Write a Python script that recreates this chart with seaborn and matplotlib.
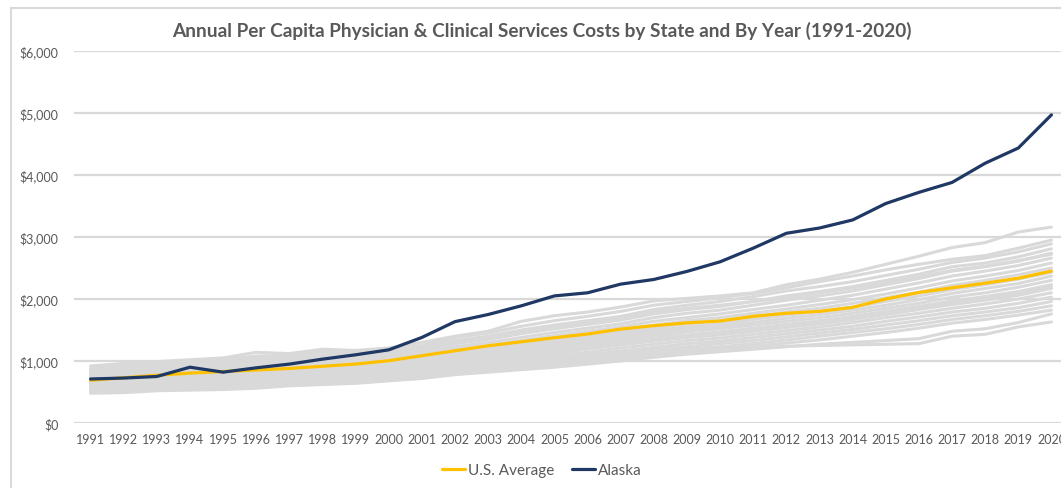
import matplotlib
matplotlib.use("Agg")
import matplotlib.pyplot as plt
from matplotlib.patches import Rectangle
from matplotlib.lines import Line2D
from matplotlib.ticker import FuncFormatter
import seaborn as sns
import pandas as pd

years = list(range(1991, 2021))

us_average = [690, 730, 770, 805, 830, 855, 880, 915, 950, 1005, 1085, 1165, 1245, 1310, 1375,
              1435, 1515, 1570, 1615, 1645, 1720, 1770, 1800, 1865, 2000, 2105, 2180, 2255, 2335, 2450]

alaska = [710, 725, 750, 900, 820, 890, 950, 1030, 1100, 1180, 1380, 1635, 1750, 1890, 2050,
          2100, 2240, 2315, 2445, 2600, 2820, 3060, 3145, 3275, 3540, 3720, 3880, 4190, 4435, 4970]

other_states = [
    [920, 960, 990, 1020, 1050, 1140, 1120, 1190, 1170, 1210, 1300, 1400, 1480, 1640, 1730, 1790, 1870, 1970, 2010, 2050, 2100, 2230, 2320, 2430, 2560, 2690, 2830, 2910, 3080, 3160],
    [880, 930, 970, 1000, 1020, 1080, 1090, 1150, 1140, 1180, 1250, 1380, 1450, 1560, 1650, 1720, 1800, 1900, 1960, 2020, 2090, 2180, 2280, 2370, 2470, 2560, 2640, 2700, 2820, 2950],
    [850, 890, 940, 980, 1000, 1050, 1060, 1100, 1110, 1150, 1220, 1330, 1400, 1500, 1580, 1650, 1720, 1830, 1900, 1960, 2040, 2130, 2200, 2280, 2380, 2480, 2590, 2660, 2760, 2890],
    [820, 860, 900, 940, 960, 1000, 1030, 1070, 1080, 1120, 1180, 1280, 1350, 1440, 1520, 1590, 1660, 1760, 1830, 1880, 1960, 2050, 2120, 2200, 2300, 2400, 2520, 2580, 2680, 2810],
    [790, 830, 870, 900, 930, 960, 990, 1040, 1050, 1090, 1150, 1230, 1300, 1380, 1460, 1530, 1600, 1700, 1770, 1820, 1900, 1980, 2050, 2130, 2230, 2330, 2450, 2520, 2610, 2740],
    [760, 800, 840, 870, 900, 930, 960, 1000, 1020, 1060, 1110, 1190, 1260, 1330, 1410, 1480, 1550, 1640, 1700, 1760, 1830, 1900, 1980, 2060, 2160, 2260, 2370, 2450, 2540, 2660],
    [740, 770, 810, 840, 870, 900, 930, 970, 990, 1030, 1080, 1150, 1220, 1290, 1360, 1430, 1500, 1580, 1650, 1700, 1770, 1840, 1910, 1990, 2080, 2180, 2290, 2370, 2460, 2580],
    [720, 750, 780, 810, 840, 870, 900, 940, 960, 1000, 1050, 1120, 1180, 1250, 1320, 1390, 1460, 1530, 1600, 1650, 1720, 1790, 1850, 1930, 2020, 2110, 2220, 2300, 2390, 2500],
    [700, 730, 760, 790, 810, 840, 870, 910, 930, 970, 1020, 1090, 1150, 1210, 1280, 1350, 1420, 1490, 1550, 1600, 1670, 1740, 1800, 1870, 1960, 2050, 2150, 2230, 2320, 2430],
    [680, 700, 730, 760, 790, 810, 840, 880, 900, 940, 990, 1050, 1110, 1170, 1240, 1310, 1380, 1450, 1510, 1560, 1620, 1690, 1750, 1820, 1900, 1990, 2090, 2170, 2250, 2370],
    [660, 680, 710, 740, 760, 790, 820, 850, 870, 910, 960, 1020, 1080, 1140, 1200, 1270, 1340, 1410, 1470, 1520, 1580, 1640, 1700, 1770, 1850, 1930, 2030, 2100, 2190, 2300],
    [640, 660, 690, 710, 740, 760, 790, 820, 850, 880, 930, 990, 1040, 1100, 1160, 1230, 1300, 1370, 1420, 1470, 1530, 1590, 1650, 1720, 1800, 1880, 1970, 2040, 2120, 2230],
    [620, 640, 670, 690, 710, 740, 770, 800, 820, 850, 900, 960, 1010, 1060, 1120, 1190, 1260, 1320, 1380, 1420, 1480, 1540, 1600, 1670, 1750, 1830, 1910, 1980, 2060, 2170],
    [600, 620, 650, 670, 690, 710, 740, 770, 790, 820, 870, 930, 980, 1030, 1080, 1140, 1210, 1270, 1330, 1370, 1430, 1490, 1550, 1620, 1700, 1770, 1850, 1920, 2000, 2100],
    [580, 600, 630, 650, 660, 690, 710, 740, 760, 790, 840, 890, 940, 990, 1040, 1100, 1160, 1220, 1280, 1320, 1380, 1440, 1500, 1560, 1640, 1710, 1790, 1850, 1930, 2030],
    [560, 580, 610, 630, 640, 660, 690, 720, 730, 760, 800, 850, 900, 950, 1000, 1060, 1120, 1180, 1230, 1280, 1330, 1390, 1450, 1510, 1580, 1650, 1730, 1790, 1860, 1960],
    [540, 560, 590, 610, 620, 640, 670, 690, 700, 730, 770, 820, 870, 910, 960, 1020, 1080, 1140, 1190, 1230, 1280, 1340, 1400, 1460, 1520, 1590, 1670, 1730, 1800, 1890],
    [520, 540, 570, 580, 600, 620, 640, 670, 680, 710, 750, 800, 840, 880, 930, 990, 1040, 1100, 1150, 1190, 1240, 1290, 1340, 1400, 1460, 1530, 1610, 1670, 1740, 1820],
    [500, 510, 540, 560, 570, 580, 610, 630, 650, 690, 720, 780, 820, 860, 900, 950, 1000, 1060, 1110, 1150, 1190, 1230, 1270, 1300, 1330, 1360, 1480, 1520, 1620, 1760],
    [480, 490, 520, 530, 540, 560, 600, 620, 640, 680, 720, 790, 840, 880, 950, 1000, 1080, 1140, 1170, 1190, 1210, 1240, 1250, 1260, 1270, 1280, 1400, 1430, 1550, 1630],
    [860, 900, 930, 960, 990, 1020, 1050, 1090, 1100, 1140, 1200, 1300, 1380, 1470, 1560, 1620, 1690, 1790, 1850, 1900, 1960, 2020, 2100, 2180, 2270, 2360, 2460, 2530, 2620, 2720],
    [620, 650, 680, 700, 720, 750, 780, 810, 830, 870, 910, 970, 1030, 1080, 1140, 1200, 1270, 1340, 1400, 1450, 1500, 1560, 1620, 1680, 1760, 1840, 1930, 2000, 2080, 2200],
]

title = "Annual Per Capita Physician & Clinical Services Costs by State and By Year (1991-2020)"

sns.set_theme(style="white")
plt.rcParams["font.family"] = ["Lato", "DejaVu Sans"]

text_col = "#595959"
gray = "#D9D9D9"
yellow = "#FFC000"
navy = "#1F3864"

rows = []
for i, s in enumerate(other_states):
    for y, v in zip(years, s):
        rows.append({"state": i, "year": y, "cost": v})
df_other = pd.DataFrame(rows)
df_avg = pd.DataFrame({"year": years, "cost": us_average})
df_ak = pd.DataFrame({"year": years, "cost": alaska})

W, H = 1061, 489
fig = plt.figure(figsize=(W / 100, H / 100), dpi=100)
fig.patch.set_facecolor("white")

# outer chart frame
fig.patches.append(Rectangle((11 / W, -0.1), 1.2, (H - 9) / H + 0.1, transform=fig.transFigure,
                             fill=False, edgecolor=gray, linewidth=1.5, zorder=0))

ax_left, ax_right = 74, 1068
ax_top, ax_bottom = 52, 424
ax = fig.add_axes([ax_left / W, (H - ax_bottom) / H, (ax_right - ax_left) / W, (ax_bottom - ax_top) / H])
ax.set_facecolor("none")

sns.lineplot(data=df_other, x="year", y="cost", units="state", estimator=None,
             color=gray, linewidth=2.2, ax=ax, legend=False, zorder=2)
sns.lineplot(data=df_avg, x="year", y="cost", color=yellow, linewidth=2.3, ax=ax, legend=False, zorder=3)
sns.lineplot(data=df_ak, x="year", y="cost", color=navy, linewidth=2.3, ax=ax, legend=False, zorder=4)

ax.set_xlim(years[0] - 0.5, years[-1] + 0.5)
ax.set_ylim(0, 6000)
ax.set_yticks(range(0, 6001, 1000))
ax.yaxis.set_major_formatter(FuncFormatter(lambda v, p: f"${int(v):,}"))
ax.set_xticks(years)
ax.set_xticklabels([str(y) for y in years])
ax.grid(axis="y", color=gray, linewidth=1.6, zorder=0)
ax.set_axisbelow(True)
for sp in ax.spines.values():
    sp.set_visible(False)
ax.tick_params(axis="both", length=0, labelsize=9, labelcolor=text_col)
ax.tick_params(axis="y", pad=11)
ax.tick_params(axis="x", pad=7)
ax.set_xlabel("")
ax.set_ylabel("")

fig.text(542 / W, (H - 31) / H, title, ha="center", va="center", fontsize=13.7,
         fontweight="bold", color=text_col)

handles = [Line2D([0], [0], color=yellow, linewidth=2.3),
           Line2D([0], [0], color=navy, linewidth=2.3)]
fig.legend(handles, ["U.S. Average", "Alaska"], loc="center", bbox_to_anchor=(542 / W, (H - 471) / H),
           ncol=2, frameon=False, fontsize=11, labelcolor=text_col, handlelength=1.5,
           handletextpad=0.2, columnspacing=1.2)

fig.savefig("out.png", dpi=100, facecolor="white")
